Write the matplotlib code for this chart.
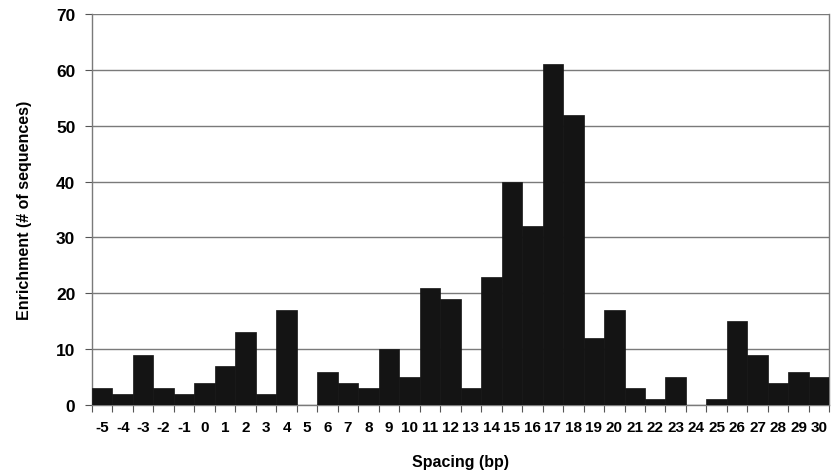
import matplotlib.pyplot as plt
import numpy as np
from matplotlib.ticker import FixedLocator, MultipleLocator

spacing = list(range(-5, 31))
enrichment = [3, 2, 9, 3, 2, 4, 7, 13, 2, 17,
              0, 6, 4, 3, 10, 5, 21, 19, 3, 23,
              40, 32, 61, 52, 12, 17, 3, 1, 5, 0,
              1, 15, 9, 4, 6, 5]

plt.rcParams["font.family"] = ["Liberation Sans", "DejaVu Sans"]
plt.rcParams["font.weight"] = "bold"

fig = plt.figure(figsize=(8.31, 4.77), dpi=100)
ax = fig.add_axes([0.1107, 0.1488, 0.8873, 0.8198])

x = np.arange(len(spacing))
ax.bar(x, enrichment, width=1.0, color="#141414", edgecolor="#141414",
       linewidth=0.5, zorder=3)

ax.set_xlim(-0.5, len(spacing) - 0.5)
ax.set_ylim(0, 70)
ax.yaxis.set_major_locator(MultipleLocator(10))
ax.grid(axis="y", color="#7a7a7a", linewidth=1.0, zorder=0)

ax.set_xticks(x)
ax.set_xticklabels([str(s) for s in spacing], fontsize=11, fontweight="bold")
ax.xaxis.set_minor_locator(FixedLocator(np.arange(-0.5, len(spacing), 1.0)))
ax.tick_params(axis="x", which="major", length=0, pad=10.5)
ax.tick_params(axis="x", which="minor", length=5, width=0.8, color="#555555",
               direction="out")
ax.tick_params(axis="y", length=5, width=0.8, color="#555555", labelsize=12.5,
               pad=7)
for lab in ax.get_yticklabels():
    lab.set_fontweight("bold")

ax.spines["top"].set_visible(False)
for side in ["left", "right", "bottom"]:
    ax.spines[side].set_color("#7a7a7a")
    ax.spines[side].set_linewidth(1.0)

ax.set_xlabel("Spacing (bp)", fontsize=11.5, fontweight="bold", labelpad=15)
ax.set_ylabel("Enrichment (# of sequences)", fontsize=11.5, fontweight="bold",
              labelpad=17)

fig.savefig("out.png", dpi=100)
